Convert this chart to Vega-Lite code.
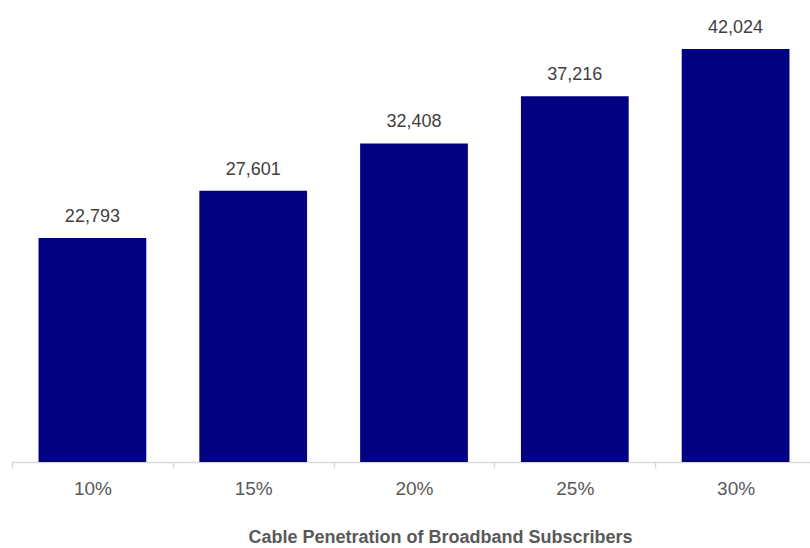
{
  "$schema": "https://vega.github.io/schema/vega-lite/v6.json",
  "width": 804,
  "height": 462,
  "autosize": {"type": "none"},
  "padding": {"left": 12, "top": 0, "right": 0, "bottom": 86},
  "background": "white",
  "config": {"view": {"stroke": null}, "font": "Liberation Sans"},
  "data": {"values": [
    {"penetration": "10%", "value": 22793},
    {"penetration": "15%", "value": 27601},
    {"penetration": "20%", "value": 32408},
    {"penetration": "25%", "value": 37216},
    {"penetration": "30%", "value": 42024}
  ]},
  "encoding": {
    "x": {
      "field": "penetration", "type": "ordinal", "sort": null,
      "scale": {"paddingInner": 0.33, "paddingOuter": 0.165},
      "axis": {
        "title": "Cable Penetration of Broadband Subscribers",
        "titleFont": "Liberation Sans", "titleFontSize": 18, "titleFontWeight": "bold",
        "titleColor": "#595959", "titleX": 428, "titleY": 80, "titleBaseline": "alphabetic",
        "labelAngle": 0, "labelFontSize": 19, "labelColor": "#595959", "labelPadding": 11,
        "domainColor": "#d9d9d9", "domainWidth": 1.5, "tickColor": "#d9d9d9", "tickWidth": 1.5, "tickSize": 6,
        "tickOffset": -80.4, "labelOffset": 80.4
      }
    },
    "y": {
      "field": "value", "type": "quantitative",
      "scale": {"domain": [0, 47000], "nice": false},
      "axis": null
    }
  },
  "layer": [
    {"mark": {"type": "bar", "color": "#000080"}},
    {
      "mark": {"type": "text", "baseline": "alphabetic", "dy": -16, "fontSize": 18, "color": "#404040"},
      "encoding": {"text": {"field": "value", "type": "quantitative", "format": ",d"}}
    }
  ]
}
